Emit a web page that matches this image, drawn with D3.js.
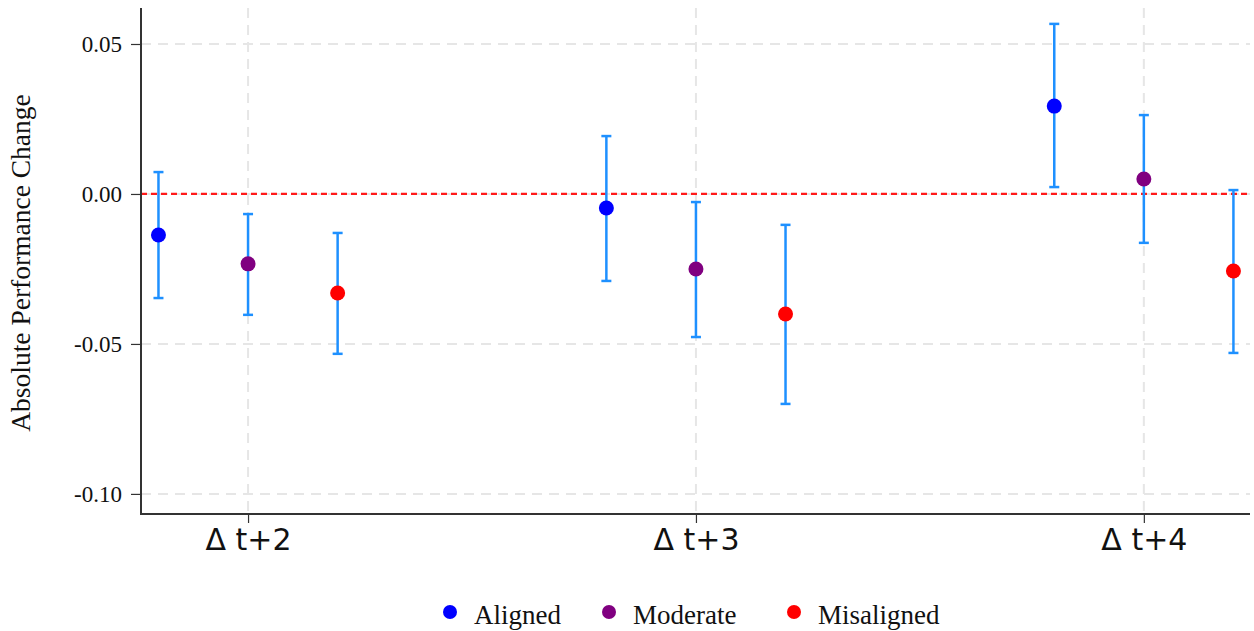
<!DOCTYPE html>
<html>
<head>
<meta charset="utf-8">
<script src="https://cdn.jsdelivr.net/npm/d3@7"></script>
<style>
  body { margin: 0; background: #fff; }
  text { font-family: "Liberation Serif", "DejaVu Serif", serif; fill: #111; }
</style>
</head>
<body>
<svg id="chart"></svg>
<script>
// data
const periods = ["Δ t+2", "Δ t+3", "Δ t+4"];
const periodPos = [2, 3, 4];
const groups = ["Aligned", "Moderate", "Misaligned"];
const groupColors = ["#0000ff", "#800080", "#ff0000"];
const groupOffset = [-0.2, 0, 0.2];
// point estimates per group, one per period
const estAligned = [-0.0137, -0.0047, 0.0293];
const estModerate = [-0.0233, -0.0250, 0.0050];
const estMisaligned = [-0.0330, -0.0400, -0.0257];
const loAligned = [-0.0347, -0.0290, 0.0023];
const hiAligned = [0.0073, 0.0193, 0.0567];
const loModerate = [-0.0403, -0.0477, -0.0163];
const hiModerate = [-0.0067, -0.0027, 0.0263];
const loMisaligned = [-0.0533, -0.0700, -0.0530];
const hiMisaligned = [-0.0130, -0.0103, 0.0013];
const yTicks = [0.05, 0.0, -0.05, -0.1];

const est = [estAligned, estModerate, estMisaligned];
const lo = [loAligned, loModerate, loMisaligned];
const hi = [hiAligned, hiModerate, hiMisaligned];
const rows = [];
groups.forEach((g, gi) => {
  periodPos.forEach((p, pi) => {
    rows.push({ group: gi, x: p + groupOffset[gi], y: est[gi][pi], lo: lo[gi][pi], hi: hi[gi][pi] });
  });
});

const width = 1254, height = 631;
const marginLeft = 141, marginRight = 4, marginTop = 8, marginBottom = 117;

const svg = d3.select("#chart").attr("width", width).attr("height", height);

const x = d3.scaleLinear()
  .domain([1.761, 4.237])
  .range([marginLeft, width - marginRight]);
const y = d3.scaleLinear()
  .domain([-0.1067, 0.062])
  .range([height - marginBottom, marginTop]);

// grid lines
svg.append("g")
  .selectAll("line")
  .data(yTicks)
  .join("line")
  .attr("x1", marginLeft).attr("x2", width - marginRight)
  .attr("y1", d => y(d)).attr("y2", d => y(d))
  .attr("stroke", "#e6e6e6").attr("stroke-width", 2)
  .attr("stroke-dasharray", "10,7");
svg.append("g")
  .selectAll("line")
  .data(periodPos)
  .join("line")
  .attr("x1", d => x(d)).attr("x2", d => x(d))
  .attr("y1", marginTop).attr("y2", height - marginBottom)
  .attr("stroke", "#e6e6e6").attr("stroke-width", 2)
  .attr("stroke-dasharray", "10,7");

// zero line
svg.append("line")
  .attr("x1", marginLeft).attr("x2", width - marginRight)
  .attr("y1", y(0)).attr("y2", y(0))
  .attr("stroke", "#ff1a1a").attr("stroke-width", 2.2)
  .attr("stroke-dasharray", "6,4");

// axes
const yAxis = d3.axisLeft(y).tickValues(yTicks).tickSize(10).tickPadding(9);
const gy = svg.append("g")
  .attr("transform", `translate(${marginLeft},0)`)
  .call(yAxis);
gy.select(".domain").remove();
gy.selectAll("text").style("font-size", "23px").text(d => d3.format(".2f")(d).replace("−", "-"));
gy.selectAll(".tick line").attr("stroke", "#333").attr("stroke-width", 1.2);

const xAxis = d3.axisBottom(x).tickValues(periodPos).tickFormat((d, i) => periods[i]).tickSize(9).tickPadding(6);
const gx = svg.append("g")
  .attr("transform", `translate(0,${height - marginBottom})`)
  .call(xAxis);
gx.select(".domain").remove();
gx.selectAll(".tick line").attr("stroke", "#333").attr("stroke-width", 1.2);
gx.selectAll("text")
  .style("font-family", "'DejaVu Sans', sans-serif")
  .style("font-size", "30px");

// axis lines
svg.append("line")
  .attr("x1", marginLeft).attr("x2", marginLeft)
  .attr("y1", marginTop).attr("y2", height - marginBottom + 1)
  .attr("stroke", "#333").attr("stroke-width", 2);
svg.append("line")
  .attr("x1", marginLeft).attr("x2", width - marginRight)
  .attr("y1", height - marginBottom).attr("y2", height - marginBottom)
  .attr("stroke", "#333").attr("stroke-width", 2);

// y axis title
svg.append("text")
  .attr("transform", `translate(30,${(marginTop + height - marginBottom) / 2 + 2}) rotate(-90)`)
  .attr("text-anchor", "middle")
  .style("font-size", "27.5px")
  .text("Absolute Performance Change");

// error bars
const bars = svg.append("g").attr("stroke", "#1e90ff").attr("stroke-width", 2.5);
bars.selectAll(".ci")
  .data(rows)
  .join("line")
  .attr("x1", d => x(d.x)).attr("x2", d => x(d.x))
  .attr("y1", d => y(d.lo)).attr("y2", d => y(d.hi));
bars.selectAll(".capLo")
  .data(rows)
  .join("line")
  .attr("x1", d => x(d.x) - 5).attr("x2", d => x(d.x) + 5)
  .attr("y1", d => y(d.lo)).attr("y2", d => y(d.lo));
bars.selectAll(".capHi")
  .data(rows)
  .join("line")
  .attr("x1", d => x(d.x) - 5).attr("x2", d => x(d.x) + 5)
  .attr("y1", d => y(d.hi)).attr("y2", d => y(d.hi));

// points
svg.append("g")
  .selectAll("circle")
  .data(rows)
  .join("circle")
  .attr("cx", d => x(d.x))
  .attr("cy", d => y(d.y))
  .attr("r", 7.5)
  .attr("fill", d => groupColors[d.group]);

// legend
const legendX = [450, 609, 794];
const legend = svg.append("g").attr("transform", "translate(0,612)");
const item = legend.selectAll("g")
  .data(groups)
  .join("g")
  .attr("transform", (d, i) => `translate(${legendX[i]},0)`);
item.append("circle").attr("r", 7).attr("fill", (d, i) => groupColors[i]);
item.append("text")
  .attr("x", 24)
  .attr("y", 12)
  .style("font-size", "27px")
  .text(d => d);
</script>
</body>
</html>
